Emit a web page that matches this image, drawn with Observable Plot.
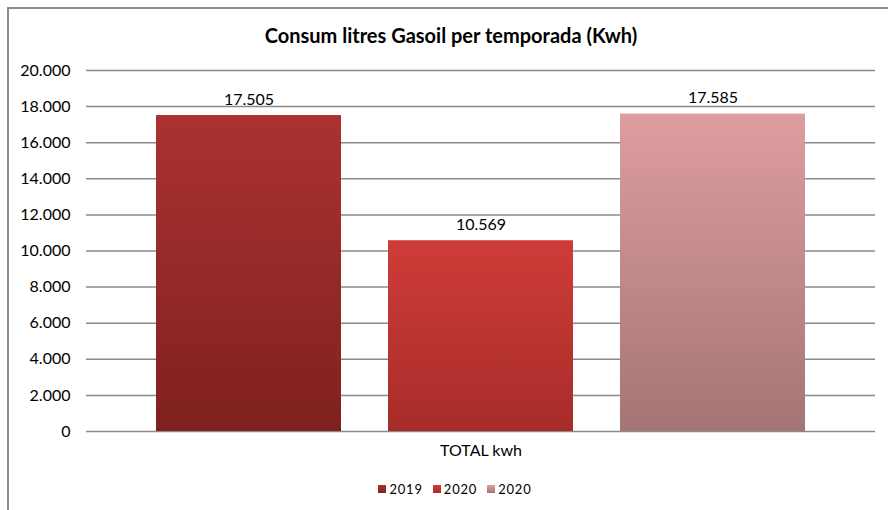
<!DOCTYPE html>
<html><head><meta charset="utf-8">
<script src="https://cdn.jsdelivr.net/npm/d3@7"></script>
<script src="https://cdn.jsdelivr.net/npm/@observablehq/plot@0.6"></script>
<style>
body{margin:0;background:#fff;font-family:Lato,"Open Sans",sans-serif;color:#000}
#wrap{position:relative;width:888px;height:510px;overflow:hidden;background:#fff}
#frame{position:absolute;left:7px;top:7px;width:900px;height:520px;border-left:2px solid #8c8c8c;border-top:2px solid #8c8c8c}
#title{position:absolute;top:22px;left:8px;width:886px;text-align:center;font-weight:bold;font-size:20px;line-height:26px;font-family:Lato,sans-serif}
#chart{position:absolute;left:0;top:60px}
#legend{position:absolute;top:481px;left:0;width:910px;display:flex;justify-content:center;gap:10px;font-size:13px;letter-spacing:0.8px;font-family:Lato,sans-serif}
#legend span.item{display:flex;align-items:center;gap:3px}
#legend span.sw{display:inline-block;width:8px;height:8px}
</style></head>
<body>
<div id="wrap">
  <div id="frame"></div>
  <div id="title"></div>
  <div id="chart"></div>
  <div id="legend"></div>
</div>
<script>
const chartTitle = "Consum litres Gasoil per temporada (Kwh)";
const category = "TOTAL kwh";
const seriesLabels = ["2019", "2020", "2020"];
const values = [17505, 10569, 17585];
const yTicks = [0, 2000, 4000, 6000, 8000, 10000, 12000, 14000, 16000, 18000, 20000];

const topColors = ["#AA3231", "#CF3C39", "#DE9D9F"];
const bottomColors = ["#7F211F", "#A72C29", "#A47576"];

const locale = d3.formatLocale({decimal: ",", thousands: ".", grouping: [3], currency: ["", "€"]});
const fmt = locale.format(",d");

const data = values.map((v, i) => ({cat: category, key: i, label: seriesLabels[i], value: v}));

document.getElementById("title").textContent = chartTitle;

const svg = Plot.plot({
  width: 888,
  height: 400,
  marginLeft: 86,
  marginRight: 13,
  marginTop: 10,
  marginBottom: 29,
  style: {fontFamily: "Lato, sans-serif", fontSize: "16px", color: "#000", background: "transparent"},
  fx: {domain: [category], padding: 0, axis: "bottom", label: null, tickSize: 0, tickPadding: 13},
  x: {domain: [0, 1, 2], paddingInner: 0.2026, paddingOuter: 0.3017, axis: null},
  y: {domain: [0, 20000], ticks: yTicks, tickFormat: fmt, label: null, tickSize: 0, tickPadding: 16, grid: false},
  color: {type: "identity"},
  marks: [
    Plot.ruleY(yTicks, {stroke: "#8a8a8a", strokeWidth: 1.5}),
    Plot.barY(data, {fx: "cat", x: "key", y: "value", fill: d => `url(#grad${d.key})`, inset: 0}),
    Plot.text(data, {fx: "cat", x: "key", y: "value", text: d => fmt(d.value), dy: -11, lineAnchor: "bottom", fontSize: 16, fill: "#000"})
  ]
});

const ns = "http://www.w3.org/2000/svg";
const defs = document.createElementNS(ns, "defs");
topColors.forEach((c, i) => {
  const g = document.createElementNS(ns, "linearGradient");
  g.setAttribute("id", "grad" + i);
  g.setAttribute("x1", "0"); g.setAttribute("y1", "0");
  g.setAttribute("x2", "0"); g.setAttribute("y2", "1");
  const s1 = document.createElementNS(ns, "stop");
  s1.setAttribute("offset", "0"); s1.setAttribute("stop-color", c);
  const s2 = document.createElementNS(ns, "stop");
  s2.setAttribute("offset", "1"); s2.setAttribute("stop-color", bottomColors[i]);
  g.appendChild(s1); g.appendChild(s2);
  defs.appendChild(g);
});
svg.insertBefore(defs, svg.firstChild);
document.getElementById("chart").appendChild(svg);

const legend = document.getElementById("legend");
seriesLabels.forEach((l, i) => {
  const item = document.createElement("span");
  item.className = "item";
  const sw = document.createElement("span");
  sw.className = "sw";
  sw.style.background = `linear-gradient(${topColors[i]}, ${bottomColors[i]})`;
  const t = document.createElement("span");
  t.textContent = l;
  item.appendChild(sw); item.appendChild(t);
  legend.appendChild(item);
});
</script>
</body></html>
